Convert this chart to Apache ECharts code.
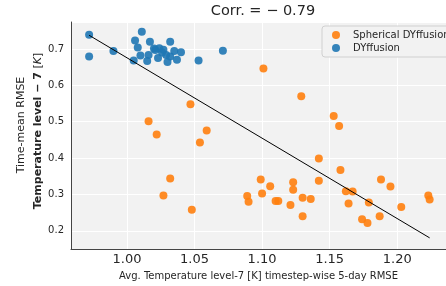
<!DOCTYPE html>
<html><head><meta charset="utf-8">
<script src="https://cdn.jsdelivr.net/npm/echarts@6/dist/echarts.min.js"></script>
<style>html,body{margin:0;padding:0;background:#fff}#c{width:446px;height:286px}</style>
</head><body><div id="c"></div>
<script>
const titleText = 'Corr. = \u2212 0.79';
const xAxisTitle = 'Avg. Temperature level-7 [K] timestep-wise 5-day RMSE';
const yAxisTitle1 = 'Time-mean RMSE';
const seriesNames = ['Spherical DYffusion', 'DYffusion'];

const dyffusionX = [0.972,0.972,0.990,1.011,1.006,1.008,1.010,1.005,1.017,1.016,1.015,1.021,1.024,1.027,1.023,1.029,1.030,1.032,1.035,1.032,1.037,1.040,1.053,1.071,1.020,1.026];
const dyffusionY = [0.739,0.679,0.694,0.747,0.723,0.704,0.682,0.668,0.720,0.683,0.667,0.697,0.702,0.698,0.675,0.683,0.664,0.720,0.694,0.679,0.670,0.691,0.668,0.695,0.701,0.690];

const sphericalX = [1.016,1.022,1.047,1.059,1.054,1.032,1.027,1.048,1.089,1.090,1.101,1.129,1.153,1.157,1.142,1.158,1.099,1.100,1.106,1.123,1.123,1.142,1.110,1.112,1.121,1.130,1.136,1.130,1.162,1.167,1.164,1.179,1.174,1.178,1.187,1.188,1.195,1.203,1.223,1.224];
const sphericalY = [0.501,0.465,0.548,0.476,0.443,0.344,0.297,0.258,0.296,0.280,0.646,0.570,0.516,0.488,0.399,0.367,0.341,0.303,0.323,0.334,0.313,0.338,0.282,0.282,0.271,0.291,0.288,0.240,0.309,0.308,0.275,0.278,0.232,0.222,0.240,0.341,0.322,0.266,0.297,0.286];

// regression line: y = fitIntercept + fitSlope * x, over the data's x span
const fitSlope = -2.209;
const fitIntercept = 2.8847;

const xRange = [0.9586, 1.2361];
const yRange = [0.15, 0.774];

const allX = sphericalX.concat(dyffusionX);
const fx0 = Math.min(...allX), fx1 = Math.max(...allX);
const fitData = [[fx0, fitIntercept+fitSlope*fx0],[fx1, fitIntercept+fitSlope*fx1]];

const zip = (xs, ys) => xs.map((x,i)=>[x, ys[i]]);
const FONT = 'DejaVu Sans';
const chart = echarts.init(document.getElementById('c'), null, {renderer:'canvas'});
chart.setOption({
  animation: false,
  backgroundColor: '#ffffff',
  textStyle: {fontFamily: FONT},
  title: {text: titleText, left: 263, top: 4, textAlign: 'center', padding: 0,
    textStyle: {fontFamily: FONT, fontSize: 14.5, fontWeight: 'normal', color: '#262626'}},
  grid: {left: 71, top: 22, right: -9, bottom: 34, show: true, backgroundColor: '#f2f2f2', borderWidth: 0},
  legend: {
    orient: 'vertical', left: 322, top: 26,
    padding: [4, 10, 4, 10], itemGap: 3, itemWidth: 8, itemHeight: 8,
    backgroundColor: '#f2f2f2', borderColor: '#d0d0d0', borderWidth: 1, borderRadius: 3,
    textStyle: {fontFamily: FONT, fontSize: 10, color: '#262626', padding: [0,0,0,8]},
    data: [{name: seriesNames[0], icon: 'circle'}, {name: seriesNames[1], icon: 'circle'}]
  },
  xAxis: {
    type: 'value', min: xRange[0], max: xRange[1], minInterval: 0.05, maxInterval: 0.05,
    name: xAxisTitle, nameLocation: 'middle', nameGap: 16,
    nameTextStyle: {fontFamily: FONT, fontSize: 10, color: '#262626'},
    axisLine: {show: true, lineStyle: {color: '#444', width: 1}},
    axisTick: {show: false},
    axisLabel: {fontFamily: FONT, fontSize: 13, color: '#262626', margin: 4, showMinLabel: false, showMaxLabel: false,
      formatter: v => v.toFixed(2)},
    splitLine: {show: true, lineStyle: {color: '#ffffff', width: 1}}
  },
  yAxis: {
    type: 'value', min: yRange[0], max: yRange[1], minInterval: 0.1, maxInterval: 0.1,
    axisLine: {show: true, lineStyle: {color: '#444', width: 1}},
    axisTick: {show: false},
    axisLabel: {fontFamily: FONT, fontSize: 10, color: '#262626', margin: 7, showMinLabel: false, showMaxLabel: false,
      formatter: v => v.toFixed(1)},
    splitLine: {show: true, lineStyle: {color: '#ffffff', width: 1}}
  },
  graphic: [
    {type: 'text', x: 21, y: 125, rotation: Math.PI/2,
      style: {text: yAxisTitle1, font: '11px "DejaVu Sans"', fill: '#262626', align: 'center', verticalAlign: 'middle'}},
    {type: 'text', x: 38, y: 131, rotation: Math.PI/2,
      style: {text: '{b|Temperature level \u2212 7} [{i|K}]', fill: '#262626', align: 'center', verticalAlign: 'middle',
        font: '11px "DejaVu Sans"',
        rich: {b: {fontFamily: FONT, fontSize: 11, fontWeight: 'bold', fill: '#262626'},
               i: {fontFamily: FONT, fontSize: 11, fontStyle: 'italic', fill: '#262626'}}}}
  ],
  series: [
    {name: seriesNames[0], type: 'scatter', data: zip(sphericalX, sphericalY), symbolSize: 8,
      itemStyle: {color: '#ff7f0e', opacity: 0.9}, z: 2},
    {name: seriesNames[1], type: 'scatter', data: zip(dyffusionX, dyffusionY), symbolSize: 8,
      itemStyle: {color: '#1f77b4', opacity: 0.9}, z: 2},
    {name: 'fit', type: 'line', data: fitData, symbol: 'none', silent: true,
      lineStyle: {color: '#000000', width: 1}, z: 3}
  ]
});
</script></body></html>
